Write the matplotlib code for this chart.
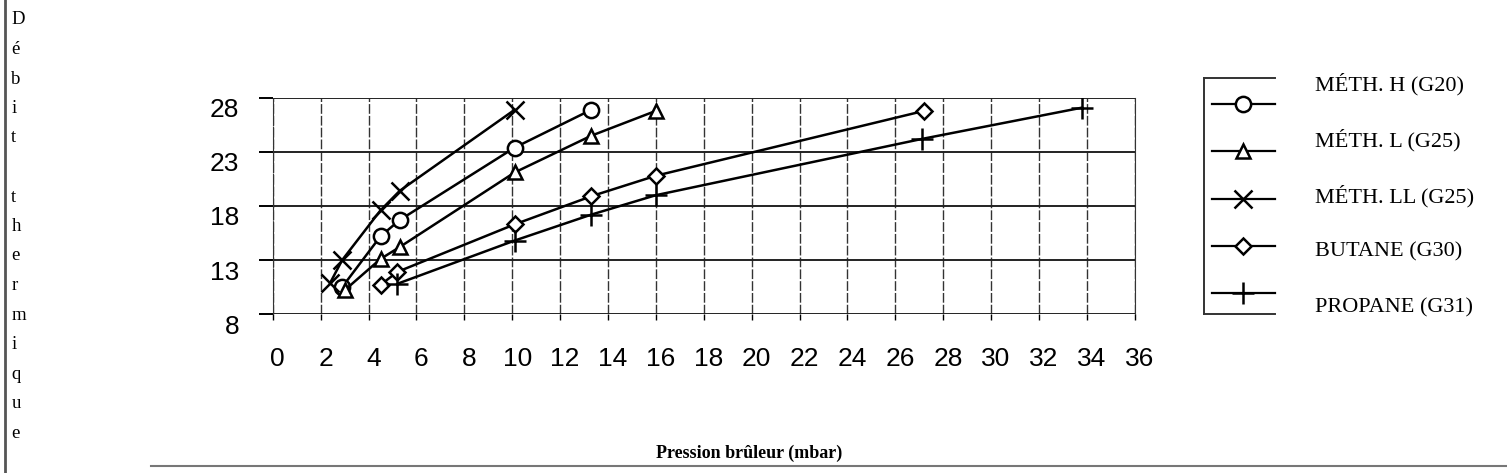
import numpy as np
import matplotlib
matplotlib.use("Agg")
import matplotlib.pyplot as plt
from matplotlib.lines import Line2D
import matplotlib.transforms as mtransforms


# -------------------------
# DATA
# -------------------------
meth_h_x = [2.9, 4.5, 5.3, 10.1, 13.3]
meth_h_y = [10.5, 15.2, 16.7, 23.4, 26.9]

meth_l_x = [3.0, 4.5, 5.3, 10.1, 13.3, 16.0]
meth_l_y = [10.2, 13.1, 14.2, 21.1, 24.5, 26.8]

meth_ll_x = [2.4, 2.9, 4.5, 5.3, 10.1]
meth_ll_y = [10.9, 13.0, 17.6, 19.4, 26.9]

butane_x = [4.5, 5.2, 10.1, 13.3, 16.0, 27.2]
butane_y = [10.7, 11.9, 16.3, 18.9, 20.8, 26.8]

propane_x = [5.2, 10.1, 13.3, 16.0, 27.1, 33.8]
propane_y = [10.8, 14.8, 17.2, 19.0, 24.2, 27.1]

labels = ["MÉTH. H (G20)", "MÉTH. L (G25)", "MÉTH. LL (G25)",
          "BUTANE (G30)", "PROPANE (G31)"]
markers = ["o", "^", "x", "D", "+"]
msizes = [11, 10, 13, 8, 16]

xticks = list(range(0, 37, 2))
yticks = [8, 13, 18, 23, 28]

ylabel = "Débit thermique"
xlabel = "Pression brûleur (mbar)"

series = [(meth_h_x, meth_h_y), (meth_l_x, meth_l_y), (meth_ll_x, meth_ll_y),
          (butane_x, butane_y), (propane_x, propane_y)]

tick_font = ["Liberation Sans", "DejaVu Sans"]
serif_font = ["Liberation Serif", "DejaVu Serif"]


# -------------------------
# FIGURE
# -------------------------
fig = plt.figure(figsize=(15.07, 4.73), dpi=100)
ax = fig.add_axes([0.181, 0.336, 0.572, 0.457])

for (xs, ys), m, ms in zip(series, markers, msizes):
    ax.plot(xs, ys, color="black", lw=1.8, marker=m, ms=ms,
            mfc="white", mec="black", mew=1.8, zorder=3)

ax.set_xlim(0, 36)
ax.set_ylim(8, 28)
ax.set_xticks(xticks)
ax.set_yticks(yticks)
ax.set_xticklabels([str(t) for t in xticks], family=tick_font, fontsize=19)
ax.set_yticklabels([str(t) for t in yticks], family=tick_font, fontsize=19)

ax.grid(axis="y", color="#222222", lw=1.4)
ax.grid(axis="x", color="#333333", lw=1.0, linestyle=(0, (7, 1.5)))
for s in ax.spines.values():
    s.set_visible(False)
ax.spines["right"].set_visible(True)
ax.spines["right"].set_color("#333333")
ax.spines["left"].set_visible(True)
ax.spines["left"].set_color("#333333")
ax.spines["left"].set_linestyle((0, (7, 1.5)))

ax.tick_params(axis="y", direction="out", length=10, width=1.4, pad=14)
ax.tick_params(axis="x", direction="out", length=4, width=1.0, pad=20)

# scanned labels sit a bit off their ticks
off_y = mtransforms.ScaledTranslation(0, -0.10, fig.dpi_scale_trans)
for lab in ax.get_yticklabels():
    lab.set_transform(lab.get_transform() + off_y)
off_x = mtransforms.ScaledTranslation(0.05, 0, fig.dpi_scale_trans)
for lab in ax.get_xticklabels():
    lab.set_transform(lab.get_transform() + off_x)

# -------------------------
# AXIS TITLES
# -------------------------
fig.text(0.497, 0.042, xlabel, family=serif_font, fontweight="bold",
         fontsize=13, ha="center", va="center")

letters = list(ylabel)
y0 = 1 - 20 / 473
step = 29.5 / 473
for i, ch in enumerate(letters):
    fig.text(0.0075, y0 - i * step, ch, family=serif_font, fontsize=13.5,
             ha="left", va="center")

# frame lines from the scan
fig.add_artist(Line2D([0.0035, 0.0035], [0.0, 1.0], color="#555555", lw=2.0,
                      transform=fig.transFigure))
fig.add_artist(Line2D([0.10, 1.0], [0.015, 0.015], color="#777777", lw=1.5,
                      transform=fig.transFigure))

# -------------------------
# LEGEND
# -------------------------
lax = fig.add_axes([0.795, 0.325, 0.205, 0.52])
lax.set_xlim(0, 1)
lax.set_ylim(0, 1)
lax.axis("off")

top, bot = 0.98, 0.02
lax.plot([0.02, 0.02], [bot, top], color="#333333", lw=1.4)
lax.plot([0.02, 0.25], [top, top], color="#333333", lw=1.4)
lax.plot([0.02, 0.25], [bot, bot], color="#333333", lw=1.4)

handle_y = np.linspace(0.875, 0.105, 5)
text_y = np.linspace(0.955, 0.045, 5)
for i, (lab, m, ms) in enumerate(zip(labels, markers, msizes)):
    lax.plot([0.045, 0.25], [handle_y[i], handle_y[i]], color="black", lw=1.6)
    lax.plot([0.147], [handle_y[i]], marker=m, ms=ms, mfc="white",
             mec="black", mew=1.8, color="black")
    lax.text(0.38, text_y[i], lab, family=serif_font, fontsize=16,
             ha="left", va="center")

fig.savefig("out.png", dpi=100)
